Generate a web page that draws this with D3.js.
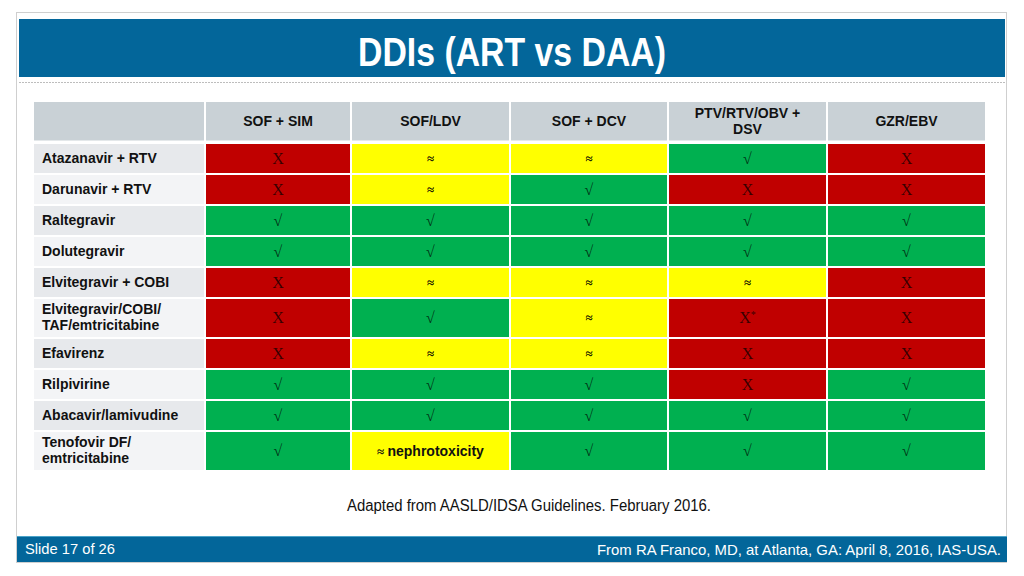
<!DOCTYPE html>
<html>
<head>
<meta charset="utf-8">
<script src="https://cdn.jsdelivr.net/npm/d3@7"></script>
<style>
  html, body { margin: 0; padding: 0; background: #ffffff; }
  svg { display: block; }
</style>
</head>
<body>
<svg id="chart" width="1024" height="576"></svg>
<script>
// ---------------- DATA ----------------
const title = "DDIs (ART vs DAA)";
const columns = ["SOF + SIM", "SOF/LDV", "SOF + DCV", "PTV/RTV/OBV +\nDSV", "GZR/EBV"];
const rows = [
  "Atazanavir + RTV",
  "Darunavir + RTV",
  "Raltegravir",
  "Dolutegravir",
  "Elvitegravir + COBI",
  "Elvitegravir/COBI/\nTAF/emtricitabine",
  "Efavirenz",
  "Rilpivirine",
  "Abacavir/lamivudine",
  "Tenofovir DF/\nemtricitabine"
];
// interaction codes per row (X = not recommended, ≈ = caution, √ = ok)
const atazanavir   = ["X", "≈", "≈", "√", "X"];
const darunavir    = ["X", "≈", "√", "X", "X"];
const raltegravir  = ["√", "√", "√", "√", "√"];
const dolutegravir = ["√", "√", "√", "√", "√"];
const elviCobi     = ["X", "≈", "≈", "≈", "X"];
const elviTaf      = ["X", "√", "≈", "X*", "X"];
const efavirenz    = ["X", "≈", "≈", "X", "X"];
const rilpivirine  = ["√", "√", "√", "X", "√"];
const abacavir     = ["√", "√", "√", "√", "√"];
const tenofovir    = ["√", "≈ nephrotoxicity", "√", "√", "√"];
const values = [atazanavir, darunavir, raltegravir, dolutegravir, elviCobi,
                elviTaf, efavirenz, rilpivirine, abacavir, tenofovir];
const caption = "Adapted from AASLD/IDSA Guidelines. February 2016.";
const footerLeft = "Slide 17 of 26";
const footerRight = "From RA Franco, MD, at Atlanta, GA: April 8, 2016, IAS-USA.";

// ---------------- LAYOUT ----------------
const svg = d3.select("#chart");
const sans = "'Liberation Sans', Arial, Helvetica, sans-serif";
const serif = "'Liberation Serif', 'Times New Roman', serif";
const BLUE = "#03669a";

const statusColor = d3.scaleOrdinal()
  .domain(["X", "≈", "√"])
  .range(["#c00000", "#ffff00", "#00b050"]);
const statusOf = v => v[0];

function fitWidth(sel, w) {
  sel.attr("textLength", w).attr("lengthAdjust", "spacingAndGlyphs");
  return sel;
}

// slide frame
svg.append("rect").attr("x", 16.5).attr("y", 12.5).attr("width", 990).attr("height", 550)
  .attr("fill", "#fff").attr("stroke", "#cfcfcf").attr("stroke-width", 1);

// title band
svg.append("rect").attr("x", 19).attr("y", 19).attr("width", 986).attr("height", 58).attr("fill", BLUE);
fitWidth(svg.append("text").attr("x", 512).attr("y", 66)
  .attr("text-anchor", "middle").attr("fill", "#fff")
  .attr("font-family", sans).attr("font-weight", "bold").attr("font-size", 40)
  .text(title), 308);

// dotted separator
svg.append("line").attr("x1", 19).attr("x2", 1006).attr("y1", 82.5).attr("y2", 82.5)
  .attr("stroke", "#bdbdbd").attr("stroke-width", 1).attr("stroke-dasharray", "2,1");

// ---------- scales ----------
const labelX0 = 34, labelX1 = 205;
const colWeights = [146, 159, 158, 159, 159];
const colEdges = [0];
colWeights.forEach(w => colEdges.push(colEdges[colEdges.length - 1] + w));
const x = d3.scaleLinear().domain([0, colEdges[colEdges.length - 1]]).range([205, 986]);

const rowWeights = rows.map(r => r.includes("\n") ? 40 / 31 : 1);
const rowEdges = [0];
rowWeights.forEach(w => rowEdges.push(rowEdges[rowEdges.length - 1] + w));
const y = d3.scaleLinear().domain([0, rowEdges[rowEdges.length - 1]]).range([144, 472]);

const headerY0 = 102, headerY1 = 140.5;
const gap = 1;

// ---------- header row ----------
const header = svg.append("g");
header.append("rect").attr("x", labelX0).attr("y", headerY0)
  .attr("width", labelX1 - labelX0 - gap).attr("height", headerY1 - headerY0).attr("fill", "#c9d1d6");
columns.forEach((c, i) => {
  const x0 = x(colEdges[i]), x1 = x(colEdges[i + 1]);
  header.append("rect").attr("x", x0 + gap).attr("y", headerY0)
    .attr("width", x1 - x0 - 2 * gap).attr("height", headerY1 - headerY0).attr("fill", "#c9d1d6");
  const lines = c.split("\n");
  const cy = (headerY0 + headerY1) / 2;
  const t = header.append("text").attr("text-anchor", "middle")
    .attr("font-family", sans).attr("font-weight", "bold").attr("font-size", 14).attr("fill", "#111");
  lines.forEach((ln, k) => {
    t.append("tspan").attr("x", (x0 + x1) / 2)
      .attr("y", cy + 5 + (k - (lines.length - 1) / 2) * 16)
      .text(ln);
  });
});

// ---------- body ----------
const body = svg.append("g");
rows.forEach((r, ri) => {
  const y0 = y(rowEdges[ri]), y1 = y(rowEdges[ri + 1]);
  const cy = (y0 + y1) / 2;
  body.append("rect").attr("x", labelX0).attr("y", y0)
    .attr("width", labelX1 - labelX0 - gap).attr("height", y1 - y0 - 2 * gap)
    .attr("fill", ri % 2 === 0 ? "#e7e9ec" : "#f3f4f6");
  const lines = r.split("\n");
  const t = body.append("text").attr("font-family", sans).attr("font-weight", "bold")
    .attr("font-size", 14).attr("fill", "#111");
  lines.forEach((ln, k) => {
    t.append("tspan").attr("x", 42)
      .attr("y", cy + 3 + (k - (lines.length - 1) / 2) * 16)
      .text(ln);
  });
  values[ri].forEach((v, ci) => {
    const x0 = x(colEdges[ci]), x1 = x(colEdges[ci + 1]);
    body.append("rect").attr("x", x0 + gap).attr("y", y0)
      .attr("width", x1 - x0 - 2 * gap).attr("height", y1 - y0 - 2 * gap)
      .attr("fill", statusColor(statusOf(v)));
    const cx = (x0 + x1) / 2;
    const s = statusOf(v);
    if (v.length > 2) {
      const note = v.slice(2);
      const tt = body.append("text").attr("x", cx).attr("y", cy + 4)
        .attr("text-anchor", "middle").attr("fill", "#111");
      tt.append("tspan").attr("font-family", serif).attr("font-size", 13).attr("font-weight", "bold").text(s + " ");
      tt.append("tspan").attr("font-family", sans).attr("font-weight", "bold").attr("font-size", 14).text(note);
    } else {
      const tt = body.append("text").attr("x", cx).attr("y", cy + (s === "≈" ? 3 : 4))
        .attr("text-anchor", "middle").attr("fill", "#000").attr("fill-opacity", s === "≈" ? 0.95 : 0.72)
        .attr("font-family", serif).attr("font-size", s === "≈" ? 13 : 16)
        .attr("font-weight", s === "≈" ? "bold" : "normal");
      tt.append("tspan").text(s);
      if (v.length === 2) {
        tt.append("tspan").attr("font-size", 10).attr("dy", -5).text(v[1]);
      }
    }
  });
});

// caption
fitWidth(svg.append("text").attr("x", 529).attr("y", 511).attr("text-anchor", "middle")
  .attr("font-family", sans).attr("font-size", 16).attr("fill", "#111").text(caption), 364);

// footer band
svg.append("rect").attr("x", 17).attr("y", 536).attr("width", 990).attr("height", 26).attr("fill", BLUE);
svg.append("line").attr("x1", 17).attr("x2", 1007).attr("y1", 536.5).attr("y2", 536.5)
  .attr("stroke", "#4aa3c8").attr("stroke-width", 1);
fitWidth(svg.append("text").attr("x", 25).attr("y", 554).attr("font-family", sans).attr("font-size", 14.5)
  .attr("fill", "#fff").text(footerLeft), 90);
fitWidth(svg.append("text").attr("x", 1001).attr("y", 555).attr("text-anchor", "end").attr("font-family", sans)
  .attr("font-size", 14.5).attr("fill", "#fff").text(footerRight), 404);
</script>
</body>
</html>
